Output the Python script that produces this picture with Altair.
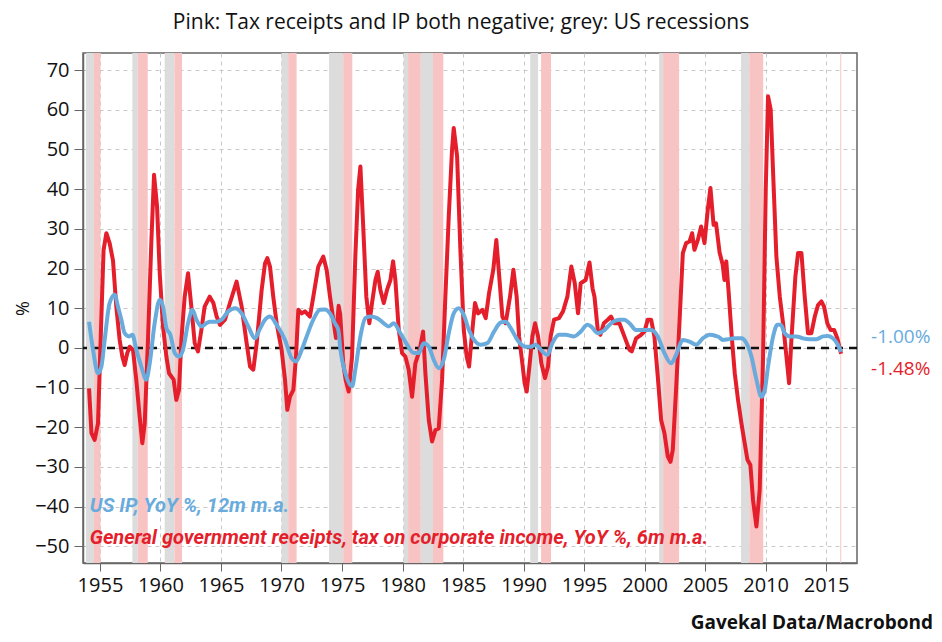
import altair as alt
import pandas as pd

# ---------------- data ----------------
red_years = [1954.1, 1954.3, 1954.56, 1954.84, 1955.1, 1955.3, 1955.53, 1955.8, 1956.08, 1956.35,
             1956.63, 1956.85, 1957.04, 1957.26, 1957.46, 1957.73, 1958.0, 1958.28, 1958.5, 1958.7,
             1958.97, 1959.25, 1959.47, 1959.72, 1959.94, 1960.21, 1960.49, 1960.71, 1960.9, 1961.09,
             1961.31, 1961.53, 1961.73, 1962.0, 1962.28, 1962.55, 1962.83, 1963.1, 1963.38, 1963.65,
             1964.07, 1964.37, 1964.64, 1964.92, 1965.33, 1965.74, 1966.29, 1966.71, 1967.12, 1967.4,
             1967.67, 1967.95, 1968.36, 1968.64, 1968.83, 1969.05, 1969.32, 1969.6, 1970.01, 1970.29,
             1970.48, 1970.7, 1970.98, 1971.2, 1971.39, 1971.67, 1971.94, 1972.35, 1972.63, 1973.04,
             1973.45, 1973.73, 1974.01, 1974.28, 1974.5, 1974.72, 1974.85, 1975.1, 1975.3, 1975.55,
             1975.83, 1976.1, 1976.33, 1976.52, 1976.74, 1977.01, 1977.26, 1977.48, 1977.76, 1977.95,
             1978.17, 1978.45, 1978.72, 1979.0, 1979.22, 1979.41, 1979.69, 1979.96, 1980.24, 1980.51,
             1980.79, 1981.06, 1981.42, 1981.7, 1981.89, 1982.17, 1982.44, 1982.72, 1982.99, 1983.27,
             1983.54, 1983.82, 1984.09, 1984.23, 1984.51, 1984.78, 1985.06, 1985.3, 1985.5, 1985.77,
             1985.99, 1986.24, 1986.6, 1986.87, 1987.15, 1987.5, 1987.75, 1987.97, 1988.25, 1988.52,
             1988.88, 1989.16, 1989.43, 1989.63, 1989.9, 1990.09, 1990.26, 1990.51, 1990.73, 1990.95,
             1991.2, 1991.47, 1991.77, 1992.02, 1992.24, 1992.52, 1992.93, 1993.26, 1993.62, 1993.95,
             1994.23, 1994.5, 1994.72, 1995.13, 1995.45, 1995.7, 1995.86, 1996.13, 1996.35, 1996.63,
             1996.96, 1997.23, 1997.51, 1997.92, 1998.33, 1998.75, 1998.94, 1999.3, 1999.71, 1999.99,
             2000.26, 2000.54, 2000.81, 2001.09, 2001.37, 2001.64, 2001.92, 2002.14, 2002.33, 2002.6,
             2002.88, 2003.16, 2003.43, 2003.71, 2003.93, 2004.12, 2004.4, 2004.67, 2004.95, 2005.22,
             2005.44, 2005.7, 2005.9, 2006.2, 2006.45, 2006.6, 2006.75, 2006.95, 2007.2, 2007.45,
             2007.72, 2008.0, 2008.27, 2008.5, 2008.74, 2008.96, 2009.24, 2009.51, 2009.79, 2010.01,
             2010.2, 2010.42, 2010.62, 2010.89, 2011.17, 2011.44, 2011.72, 2011.94, 2012.13, 2012.46,
             2012.68, 2012.96, 2013.23, 2013.5, 2013.78, 2014.06, 2014.33, 2014.61, 2014.83, 2015.1,
             2015.38, 2015.66, 2015.93, 2016.23]
red_values = [-10.2, -21.5, -23.2, -19.0, 6.0, 24.7, 28.9, 26.4, 22.0, 10.4,
              2.0, -2.2, -4.3, -1.3, 0.3, -0.5, -8.0, -17.3, -24.0, -19.0,
              2.0, 27.0, 43.6, 35.6, 18.8, 5.4, -2.2, -6.4, -7.2, -8.0,
              -13.1, -10.6, 2.0, 12.9, 18.8, 10.4, 1.2, -0.9, 4.5, 10.4,
              12.9, 11.3, 7.9, 5.8, 7.1, 11.3, 16.7, 10.4, 1.2, -4.7,
              -5.5, 1.2, 14.6, 21.3, 22.6, 20.5, 12.9, 6.2, -0.5, -8.0,
              -15.6, -12.3, -10.6, -2.2, 9.6, 8.7, 9.2, 7.9, 12.9, 20.5,
              23.0, 19.7, 12.9, 7.1, 2.5, 10.6, 8.5, -3.9, -8.0, -11.0,
              -2.2, 23.0, 39.8, 45.7, 31.4, 12.9, 6.2, 11.3, 17.1, 19.2,
              14.6, 11.3, 14.6, 17.1, 21.8, 17.1, 4.5, -1.3, -2.2, -5.5,
              -12.3, -3.9, -0.5, 4.1, -6.4, -18.2, -23.6, -20.7, -20.3, -8.0,
              12.9, 33.1, 49.9, 55.4, 48.2, 24.7, 4.5, -2.2, -4.7, 4.5,
              11.3, 8.7, 9.6, 7.5, 13.8, 19.7, 27.2, 18.8, 7.9, 6.2,
              12.9, 19.7, 12.9, 2.9, -3.9, -8.9, -11.0, -3.9, 2.9, 6.2,
              2.9, -3.9, -7.6, -4.7, 2.9, 7.1, 7.5, 9.2, 12.9, 20.5,
              16.3, 8.7, 16.3, 17.1, 21.5, 15.0, 12.9, 4.5, 3.3, 6.2,
              7.1, 7.9, 6.2, 6.2, 2.9, -0.5, -0.9, 2.4, 3.3, 4.1,
              7.1, 7.1, 2.9, -7.2, -18.2, -21.5, -27.4, -28.7, -25.7, -10.6,
              6.2, 23.9, 26.4, 26.8, 28.9, 24.7, 27.2, 30.6, 26.4, 34.8,
              40.3, 31.0, 31.4, 24.0, 21.0, 17.1, 21.8, 13.8, 2.9, -6.4,
              -13.1, -19.0, -24.0, -28.2, -29.5, -38.3, -45.0, -35.8, -2.2, 39.8,
              63.4, 60.0, 44.0, 23.0, 12.9, 6.2, -2.2, -8.9, 2.0, 18.0,
              23.9, 23.9, 12.9, 3.7, 3.7, 7.9, 10.8, 11.7, 10.4, 6.2,
              4.5, 4.5, 2.4, -1.48]

blue_years = [1954.1, 1954.43, 1954.84, 1955.12, 1955.39, 1955.8, 1956.22, 1956.49, 1956.77, 1957.04,
              1957.4, 1957.68, 1958.01, 1958.42, 1958.83, 1959.11, 1959.52, 1959.94, 1960.21, 1960.49,
              1960.82, 1961.18, 1961.53, 1961.86, 1962.28, 1962.64, 1962.97, 1963.38, 1963.79, 1964.09,
              1964.64, 1965.05, 1965.6, 1966.16, 1966.71, 1967.26, 1967.81, 1968.17, 1968.64, 1969.05,
              1969.6, 1970.29, 1970.84, 1971.2, 1971.67, 1972.08, 1972.63, 1973.18, 1973.6, 1974.01,
              1974.42, 1974.7, 1974.87, 1975.28, 1975.83, 1976.1, 1976.52, 1976.93, 1977.34, 1977.9,
              1978.45, 1978.86, 1979.27, 1979.82, 1980.38, 1980.93, 1981.34, 1981.75, 1982.17, 1982.58,
              1982.99, 1983.4, 1983.82, 1984.23, 1984.64, 1985.06, 1985.49, 1985.91, 1986.46, 1987.01,
              1987.56, 1988.11, 1988.52, 1988.94, 1989.49, 1990.18, 1990.59, 1991.0, 1991.55, 1991.97,
              1992.38, 1992.93, 1993.48, 1994.17, 1994.72, 1995.27, 1995.58, 1996.13, 1996.68, 1997.23,
              1997.92, 1998.33, 1998.75, 1999.3, 1999.99, 2000.54, 2001.09, 2001.64, 2002.19, 2002.6,
              2003.16, 2003.71, 2004.26, 2004.81, 2005.36, 2005.91, 2006.1, 2006.48, 2006.9, 2007.45,
              2008.0, 2008.41, 2008.83, 2009.24, 2009.65, 2009.93, 2010.2, 2010.62, 2010.97, 2011.25,
              2011.58, 2011.99, 2012.54, 2013.09, 2013.65, 2014.2, 2014.75, 2015.16, 2015.57, 2015.93,
              2016.23]
blue_values = [6.6, -0.5, -6.4, -4.7, 2.0, 11.3, 13.4, 10.4, 7.1, 3.7,
               2.9, 3.3, -0.5, -4.7, -8.0, -3.9, 6.2, 12.1, 10.4, 5.0,
               3.3, -1.3, -2.2, -0.5, 6.2, 9.6, 7.1, 5.4, 6.2, 6.6,
               6.6, 7.1, 9.2, 10.0, 8.7, 5.4, 2.4, 4.5, 7.1, 7.9,
               5.8, 2.0, -2.6, -3.4, -0.5, 2.9, 7.1, 9.6, 9.7, 8.7,
               6.2, 4.5, -0.5, -6.4, -9.7, -5.5, 2.9, 7.5, 7.9, 7.5,
               6.2, 5.4, 6.2, 3.7, 0.8, -1.3, -1.3, 1.2, 0.3, -3.0,
               -5.1, -3.0, 3.7, 8.7, 10.0, 8.3, 4.5, 2.0, 0.8, 1.2,
               4.1, 6.4, 6.6, 5.0, 2.0, 0.3, 0.3, 0.8, -0.9, -1.8,
               1.2, 3.3, 3.3, 2.9, 4.1, 5.8, 5.4, 3.7, 4.5, 6.2,
               7.1, 7.1, 6.2, 4.5, 4.5, 4.5, 2.9, -1.3, -3.9, -1.8,
               2.0, 1.6, 0.8, 2.4, 3.3, 3.0, 2.8, 2.0, 2.2, 2.4,
               2.4, 1.2, -2.2, -8.0, -12.3, -10.6, -4.7, 2.9, 5.8, 5.8,
               3.7, 2.9, 2.9, 2.4, 2.2, 2.2, 2.9, 3.0, 2.4, 1.0,
               -1.0]

recession_start = [1953.85, 1957.68, 1960.35, 1970.0, 1973.93, 1980.1, 1981.5, 1990.55, 2001.2, 2007.97]
recession_end = [1954.5, 1958.13, 1961.15, 1970.55, 1975.1, 1980.46, 1982.52, 1991.2, 2001.53, 2008.65]
both_neg_start = [1954.5, 1958.13, 1961.15, 1970.55, 1975.1, 1980.46, 1982.52, 1991.45, 2001.53, 2008.65, 2016.17]
both_neg_end = [1955.05, 1958.95, 1961.78, 1971.25, 1975.85, 1981.5, 1983.37, 1992.27, 2002.85, 2009.8, 2016.25]

x_ticks = [1955, 1960, 1965, 1970, 1975, 1980, 1985, 1990, 1995, 2000, 2005, 2010, 2015]
y_ticks = [-50, -40, -30, -20, -10, 0, 10, 20, 30, 40, 50, 60, 70]

title_text = "Pink: Tax receipts and IP both negative; grey: US recessions"
source_text = "Gavekal Data/Macrobond"
ip_label = "US IP, YoY %, 12m m.a."
tax_label = "General government receipts, tax on corporate income, YoY %, 6m m.a."
ip_last_label = "-1.00%"
tax_last_label = "-1.48%"

# ---------------- styling ----------------
RED = "#E41E2B"
BLUE = "#68ABDC"
PINK = "#F7C3C3"
GREY = "#DCDCDC"
FONT = "Open Sans"
W, H = 774, 510

red_df = pd.DataFrame({"year": red_years, "value": red_values})
blue_df = pd.DataFrame({"year": blue_years, "value": blue_values})
rec_df = pd.DataFrame({"start": recession_start, "end": recession_end})
neg_df = pd.DataFrame({"start": both_neg_start, "end": both_neg_end})

xscale = alt.Scale(domain=[1953.6, 2017.55], nice=False, zero=False)
yscale = alt.Scale(domain=[-54.2, 74.3], nice=False, zero=False)

xaxis = alt.Axis(values=x_ticks, format="d", title=None, grid=True, gridDash=[4, 4],
                 gridColor="#C8C8C8", labelFontSize=20, labelFont=FONT, labelColor="#111",
                 tickSize=8, tickColor="#666", domainColor="#666", domainWidth=1.5,
                 labelPadding=4, labelFlush=False)
yaxis = alt.Axis(values=y_ticks, title="%", grid=True, gridDash=[4, 4], gridColor="#C8C8C8",
                 labelFontSize=20, labelFont=FONT, labelColor="#111", tickSize=9,
                 tickColor="#666", domainColor="#666", domainWidth=1.5, labelPadding=5,
                 titleFont=FONT, titleFontSize=18, titleFontWeight="normal", titleColor="#111",
                 titlePadding=2)

base_x = alt.X("year:Q", scale=xscale, axis=xaxis)

grey_bands = alt.Chart(rec_df).mark_rect(color=GREY).encode(
    x=alt.X("start:Q", scale=xscale, axis=xaxis), x2="end:Q")
pink_bands = alt.Chart(neg_df).mark_rect(color=PINK).encode(
    x=alt.X("start:Q", scale=xscale, axis=xaxis), x2="end:Q")

zero = alt.Chart(pd.DataFrame({"y": [0]})).mark_rule(
    color="#111", strokeWidth=2.5, strokeDash=[8, 6]).encode(
    y=alt.Y("y:Q", scale=yscale, axis=yaxis))

red_line = alt.Chart(red_df).mark_line(color=RED, strokeWidth=4, strokeJoin="round").encode(
    x=base_x, y=alt.Y("value:Q", scale=yscale, axis=yaxis))
blue_line = alt.Chart(blue_df).mark_line(color=BLUE, strokeWidth=4, interpolate="monotone",
                                         strokeJoin="round").encode(
    x=base_x, y=alt.Y("value:Q", scale=yscale, axis=yaxis))

legend_df = pd.DataFrame({"year": [1954.15, 1954.15], "value": [-41.3, -49.3],
                          "label": [ip_label, tax_label], "col": [BLUE, RED]})
legend_text = alt.Chart(legend_df).mark_text(
    align="left", baseline="alphabetic", fontSize=20, font="Roboto",
    fontWeight="bold", fontStyle="italic").encode(
    x=alt.X("year:Q", scale=xscale), y=alt.Y("value:Q", scale=yscale),
    text="label:N", color=alt.Color("col:N", scale=None))

end_df = pd.DataFrame({"year": [blue_years[-1], red_years[-1]],
                       "value": [blue_values[-1], red_values[-1]],
                       "label": [ip_last_label, tax_last_label], "col": [BLUE, RED]})
end_blue = alt.Chart(end_df.iloc[[0]]).mark_text(
    align="left", baseline="middle", fontSize=19, font=FONT, dx=30, dy=-15).encode(
    x=alt.X("year:Q", scale=xscale), y=alt.Y("value:Q", scale=yscale),
    text="label:N", color=alt.Color("col:N", scale=None))
end_red = alt.Chart(end_df.iloc[[1]]).mark_text(
    align="left", baseline="middle", fontSize=19, font=FONT, dx=30, dy=15).encode(
    x=alt.X("year:Q", scale=xscale), y=alt.Y("value:Q", scale=yscale),
    text="label:N", color=alt.Color("col:N", scale=None))

title_mark = alt.Chart(pd.DataFrame({"t": [title_text]})).mark_text(
    align="center", baseline="alphabetic", fontSize=21, font=FONT, color="#111").encode(
    x=alt.value(378), y=alt.value(-24), text="t:N")
source_mark = alt.Chart(pd.DataFrame({"t": [source_text]})).mark_text(
    align="right", baseline="alphabetic", fontSize=19, font=FONT, fontWeight="bold",
    color="#111").encode(x=alt.value(850), y=alt.value(576), text="t:N")

chart = alt.layer(
    grey_bands, pink_bands, zero, red_line, blue_line, legend_text, end_blue, end_red,
    title_mark, source_mark
).properties(
    width=W, height=H,
    autosize=alt.AutoSizeParams(type="none"),
    padding={"left": 75, "top": 45, "right": 77, "bottom": 71},
    background="white",
).configure_view(stroke="#666", strokeWidth=1.5)

chart.save("out.html", embed_options={"renderer": "svg", "actions": False})
